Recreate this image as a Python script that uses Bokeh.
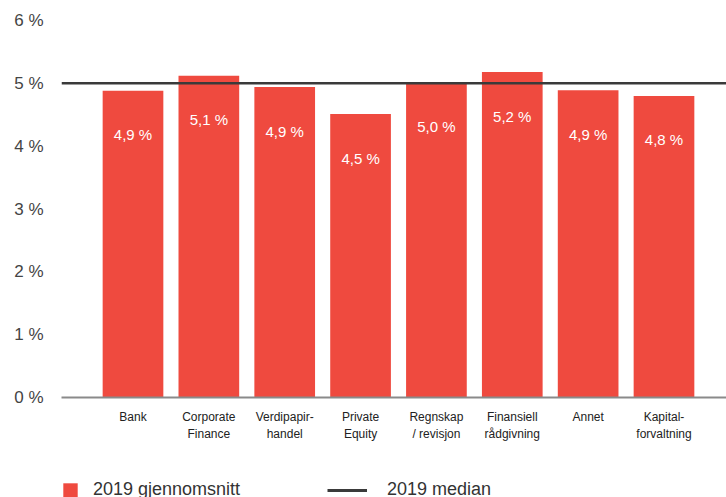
from bokeh.plotting import figure
from bokeh.models import ColumnDataSource, Span, Legend, LegendItem, FixedTicker
from bokeh.layouts import column
from bokeh.core.properties import value
from bokeh.embed import file_html
from bokeh.resources import INLINE

categories = ["Bank", "Corporate\nFinance", "Verdipapir-\nhandel", "Private\nEquity",
              "Regnskap\n/ revisjon", "Finansiell\nrådgivning", "Annet", "Kapital-\nforvaltning"]
avg_2019 = [4.88, 5.12, 4.94, 4.51, 5.01, 5.18, 4.89, 4.80]
median_2019 = 5.0
y_ticks = [0, 1, 2, 3, 4, 5, 6]
y_tick_labels = ["0 %", "1 %", "2 %", "3 %", "4 %", "5 %", "6 %"]

FONT = "Liberation Sans"
RED = "#EF4A3F"
DARK = "#3a3a3a"

xs = list(range(len(categories)))
labels = [("%.1f" % v).replace(".", ",") + " %" for v in avg_2019]
src = ColumnDataSource(dict(x=xs, top=avg_2019, label=labels))

p = figure(width=726, height=455, output_backend="svg", toolbar_location=None,
           x_range=(-0.9425, 7.824), y_range=(0, 6),
           min_border_left=61, min_border_right=0, min_border_top=20, min_border_bottom=58)
p.outline_line_color = None
p.xgrid.grid_line_color = None
p.ygrid.grid_line_color = None
p.background_fill_color = "white"
p.border_fill_color = "white"

bars = p.vbar(x="x", top="top", width=0.8, source=src, fill_color=RED, line_color=None)
p.text(x="x", y="top", text="label", source=src, y_offset=44,
       text_align="center", text_baseline="middle", text_color="white",
       text_font=value(FONT), text_font_size="15px")

median = Span(location=median_2019, dimension="width", line_color=DARK, line_width=2.5)
p.add_layout(median)

# x axis
p.xaxis.ticker = FixedTicker(ticks=xs)
p.xaxis.major_label_overrides = {i: c for i, c in zip(xs, categories)}
p.xaxis.axis_line_color = "#8a8a8a"
p.xaxis.axis_line_width = 2
p.xaxis.major_tick_line_color = None
p.xaxis.minor_tick_line_color = None
p.xaxis.major_label_text_font = FONT
p.xaxis.major_label_text_font_size = "12px"
p.xaxis.major_label_text_color = "#222222"
p.xaxis.major_label_text_line_height = 1.25
p.xaxis.major_label_standoff = 6

# y axis
p.yaxis.ticker = FixedTicker(ticks=y_ticks)
p.yaxis.major_label_overrides = {t: l for t, l in zip(y_ticks, y_tick_labels)}
p.yaxis.axis_line_color = None
p.yaxis.major_tick_line_color = None
p.yaxis.minor_tick_line_color = None
p.yaxis.major_label_text_font = FONT
p.yaxis.major_label_text_font_size = "17px"
p.yaxis.major_label_text_color = "#444444"
p.yaxis.major_label_standoff = 12

# legend strip below the chart (frame aligned with the chart's frame)
lg = figure(width=726, height=42, output_backend="svg", toolbar_location=None,
            x_range=(0, 1), y_range=(0, 1),
            min_border_left=0, min_border_right=0, min_border_top=0, min_border_bottom=0)
lg.axis.visible = False
lg.grid.visible = False
lg.outline_line_color = None
# key renderers sit outside the visible range: they only supply legend glyphs
key_bar = lg.vbar(x=[5], top=[5], width=0.8, fill_color=RED, line_color=None)
key_line = lg.line(x=[5, 6], y=[5, 5], line_color=DARK, line_width=3)

common = dict(orientation="horizontal", padding=0, margin=0, border_line_color=None,
              background_fill_alpha=0, label_text_font=FONT, label_text_font_size="18px",
              label_text_color="#333333", glyph_height=18)
leg1 = Legend(items=[LegendItem(label="2019 gjennomsnitt", renderers=[key_bar])],
              location=(0, -3), glyph_width=18, label_standoff=14, **common)
leg2 = Legend(items=[LegendItem(label="2019 median", renderers=[key_line])],
              location=(266, -3), glyph_width=40, label_standoff=20, **common)
lg.add_layout(leg1, "center")
lg.add_layout(leg2, "center")

layout = column(p, lg, spacing=0)
open("out.html", "w").write(file_html(layout, INLINE))
